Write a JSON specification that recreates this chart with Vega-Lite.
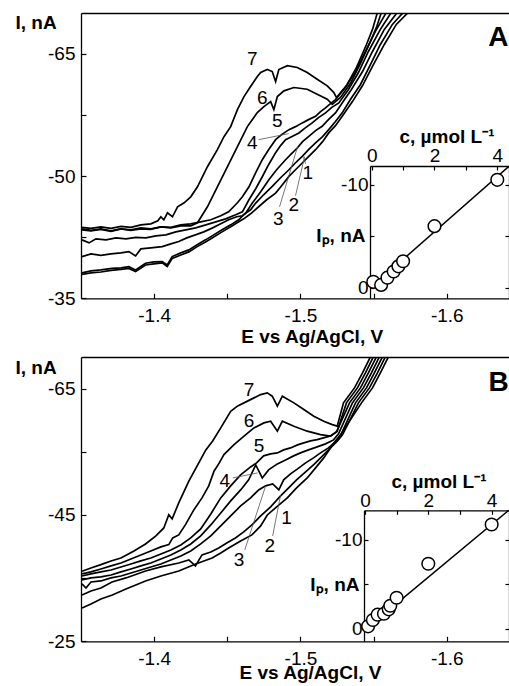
{
  "$schema": "https://vega.github.io/schema/vega-lite/v6.json",
  "padding": {"left": 15, "top": 13, "right": 0, "bottom": 0},
  "background": "white",
  "spacing": 11,
  "config": {
    "view": {"stroke": null},
    "font": "Liberation Sans",
    "axis": {"grid": false, "labelFont": "Liberation Sans", "labelFontSize": 19, "labelColor": "black", "titleFont": "Liberation Sans", "titleFontSize": 19, "titleFontWeight": "bold", "titleColor": "black", "domainColor": "black", "domainWidth": 1.3, "tickColor": "black", "tickWidth": 1.2, "labelFlush": false, "labelOverlap": false, "labelBound": false}
  },
  "datasets": {
    "curvesA": [
      {"k":7,"E":-1.3507,"I":-43.71},{"k":7,"E":-1.3568,"I":-43.58},{"k":7,"E":-1.3636,"I":-43.77},{"k":7,"E":-1.3705,"I":-43.58},{"k":7,"E":-1.3773,"I":-43.83},{"k":7,"E":-1.3841,"I":-43.71},{"k":7,"E":-1.3909,"I":-44.01},{"k":7,"E":-1.3977,"I":-44.14},{"k":7,"E":-1.4025,"I":-44.50},{"k":7,"E":-1.4046,"I":-45.00},{"k":7,"E":-1.4066,"I":-44.63},{"k":7,"E":-1.4091,"I":-45.49},{"k":7,"E":-1.4125,"I":-45.00},{"k":7,"E":-1.4160,"I":-46.23},{"k":7,"E":-1.4205,"I":-46.72},{"k":7,"E":-1.4250,"I":-47.45},{"k":7,"E":-1.4296,"I":-48.68},{"k":7,"E":-1.4364,"I":-51.14},{"k":7,"E":-1.4432,"I":-53.23},{"k":7,"E":-1.4477,"I":-54.83},{"k":7,"E":-1.4523,"I":-56.06},{"k":7,"E":-1.4569,"I":-58.15},{"k":7,"E":-1.4614,"I":-59.75},{"k":7,"E":-1.4659,"I":-60.98},{"k":7,"E":-1.4705,"I":-62.21},{"k":7,"E":-1.4728,"I":-62.70},{"k":7,"E":-1.4773,"I":-63.07},{"k":7,"E":-1.4807,"I":-62.82},{"k":7,"E":-1.4830,"I":-61.59},{"k":7,"E":-1.4852,"I":-63.07},{"k":7,"E":-1.4910,"I":-63.53},{"k":7,"E":-1.4978,"I":-63.32},{"k":7,"E":-1.5046,"I":-62.70},{"k":7,"E":-1.5114,"I":-61.88},{"k":7,"E":-1.5183,"I":-61.07},{"k":7,"E":-1.5228,"I":-60.24},{"k":7,"E":-1.5246,"I":-59.63},{"k":7,"E":-1.5314,"I":-61.10},{"k":7,"E":-1.5383,"I":-63.32},{"k":7,"E":-1.5451,"I":-66.14},{"k":7,"E":-1.5492,"I":-67.99},{"k":7,"E":-1.5526,"I":-70.08},
      {"k":6,"E":-1.3507,"I":-43.52},{"k":6,"E":-1.3568,"I":-43.34},{"k":6,"E":-1.3636,"I":-43.52},{"k":6,"E":-1.3705,"I":-43.28},{"k":6,"E":-1.3773,"I":-43.52},{"k":6,"E":-1.3841,"I":-43.40},{"k":6,"E":-1.3909,"I":-43.64},{"k":6,"E":-1.3977,"I":-43.52},{"k":6,"E":-1.4046,"I":-43.77},{"k":6,"E":-1.4114,"I":-43.64},{"k":6,"E":-1.4182,"I":-43.89},{"k":6,"E":-1.4250,"I":-43.89},{"k":6,"E":-1.4296,"I":-44.26},{"k":6,"E":-1.4364,"I":-46.23},{"k":6,"E":-1.4432,"I":-48.68},{"k":6,"E":-1.4501,"I":-51.14},{"k":6,"E":-1.4569,"I":-53.60},{"k":6,"E":-1.4637,"I":-56.06},{"k":6,"E":-1.4705,"I":-57.78},{"k":6,"E":-1.4750,"I":-58.52},{"k":6,"E":-1.4796,"I":-59.13},{"k":6,"E":-1.4818,"I":-58.15},{"k":6,"E":-1.4842,"I":-59.75},{"k":6,"E":-1.4887,"I":-60.45},{"k":6,"E":-1.4955,"I":-60.86},{"k":6,"E":-1.5046,"I":-60.65},{"k":6,"E":-1.5114,"I":-60.03},{"k":6,"E":-1.5183,"I":-59.42},{"k":6,"E":-1.5217,"I":-58.80},{"k":6,"E":-1.5273,"I":-59.63},{"k":6,"E":-1.5341,"I":-61.35},{"k":6,"E":-1.5410,"I":-63.81},{"k":6,"E":-1.5478,"I":-66.51},{"k":6,"E":-1.5519,"I":-68.23},{"k":6,"E":-1.5553,"I":-70.08},
      {"k":5,"E":-1.3507,"I":-43.40},{"k":5,"E":-1.3568,"I":-43.28},{"k":5,"E":-1.3636,"I":-43.46},{"k":5,"E":-1.3705,"I":-43.21},{"k":5,"E":-1.3773,"I":-43.52},{"k":5,"E":-1.3841,"I":-43.34},{"k":5,"E":-1.3909,"I":-43.52},{"k":5,"E":-1.3977,"I":-43.46},{"k":5,"E":-1.4046,"I":-43.77},{"k":5,"E":-1.4114,"I":-43.71},{"k":5,"E":-1.4182,"I":-44.01},{"k":5,"E":-1.4250,"I":-44.14},{"k":5,"E":-1.4318,"I":-44.38},{"k":5,"E":-1.4387,"I":-44.63},{"k":5,"E":-1.4455,"I":-45.12},{"k":5,"E":-1.4509,"I":-45.61},{"k":5,"E":-1.4569,"I":-46.72},{"k":5,"E":-1.4603,"I":-47.45},{"k":5,"E":-1.4648,"I":-48.68},{"k":5,"E":-1.4694,"I":-50.41},{"k":5,"E":-1.4739,"I":-52.00},{"k":5,"E":-1.4782,"I":-53.23},{"k":5,"E":-1.4830,"I":-54.46},{"k":5,"E":-1.4871,"I":-55.08},{"k":5,"E":-1.4921,"I":-55.69},{"k":5,"E":-1.4966,"I":-56.06},{"k":5,"E":-1.5012,"I":-56.52},{"k":5,"E":-1.5055,"I":-56.92},{"k":5,"E":-1.5103,"I":-57.33},{"k":5,"E":-1.5137,"I":-57.91},{"k":5,"E":-1.5171,"I":-58.36},{"k":5,"E":-1.5205,"I":-58.89},{"k":5,"E":-1.5239,"I":-59.38},{"k":5,"E":-1.5307,"I":-60.86},{"k":5,"E":-1.5376,"I":-62.82},{"k":5,"E":-1.5444,"I":-65.28},{"k":5,"E":-1.5512,"I":-67.74},{"k":5,"E":-1.5587,"I":-70.08},
      {"k":4,"E":-1.3507,"I":-42.17},{"k":4,"E":-1.3555,"I":-41.80},{"k":4,"E":-1.3602,"I":-42.29},{"k":4,"E":-1.3671,"I":-42.17},{"k":4,"E":-1.3739,"I":-42.41},{"k":4,"E":-1.3807,"I":-42.29},{"k":4,"E":-1.3875,"I":-42.47},{"k":4,"E":-1.3943,"I":-42.41},{"k":4,"E":-1.4012,"I":-42.66},{"k":4,"E":-1.4080,"I":-42.78},{"k":4,"E":-1.4148,"I":-43.15},{"k":4,"E":-1.4216,"I":-43.40},{"k":4,"E":-1.4284,"I":-43.64},{"k":4,"E":-1.4353,"I":-44.01},{"k":4,"E":-1.4421,"I":-44.38},{"k":4,"E":-1.4489,"I":-44.75},{"k":4,"E":-1.4557,"I":-45.24},{"k":4,"E":-1.4603,"I":-45.61},{"k":4,"E":-1.4648,"I":-47.09},{"k":4,"E":-1.4694,"I":-48.44},{"k":4,"E":-1.4739,"I":-49.91},{"k":4,"E":-1.4782,"I":-51.39},{"k":4,"E":-1.4830,"I":-52.87},{"k":4,"E":-1.4864,"I":-53.73},{"k":4,"E":-1.4898,"I":-54.46},{"k":4,"E":-1.4939,"I":-54.83},{"k":4,"E":-1.4989,"I":-55.29},{"k":4,"E":-1.5035,"I":-55.94},{"k":4,"E":-1.5080,"I":-56.52},{"k":4,"E":-1.5123,"I":-57.17},{"k":4,"E":-1.5171,"I":-57.75},{"k":4,"E":-1.5212,"I":-58.40},{"k":4,"E":-1.5262,"I":-58.97},{"k":4,"E":-1.5328,"I":-60.61},{"k":4,"E":-1.5396,"I":-62.70},{"k":4,"E":-1.5464,"I":-65.28},{"k":4,"E":-1.5546,"I":-67.99},{"k":4,"E":-1.5621,"I":-70.08},
      {"k":3,"E":-1.3507,"I":-40.12},{"k":3,"E":-1.3568,"I":-40.45},{"k":3,"E":-1.3636,"I":-40.26},{"k":3,"E":-1.3705,"I":-40.45},{"k":3,"E":-1.3773,"I":-40.57},{"k":3,"E":-1.3827,"I":-40.73},{"k":3,"E":-1.3873,"I":-40.20},{"k":3,"E":-1.3909,"I":-41.06},{"k":3,"E":-1.3977,"I":-41.18},{"k":3,"E":-1.4055,"I":-41.34},{"k":3,"E":-1.4114,"I":-41.68},{"k":3,"E":-1.4168,"I":-41.96},{"k":3,"E":-1.4223,"I":-42.41},{"k":3,"E":-1.4282,"I":-42.78},{"k":3,"E":-1.4339,"I":-43.15},{"k":3,"E":-1.4396,"I":-43.61},{"k":3,"E":-1.4455,"I":-44.14},{"k":3,"E":-1.4509,"I":-44.63},{"k":3,"E":-1.4564,"I":-45.00},{"k":3,"E":-1.4603,"I":-45.12},{"k":3,"E":-1.4623,"I":-45.37},{"k":3,"E":-1.4671,"I":-46.68},{"k":3,"E":-1.4728,"I":-48.07},{"k":3,"E":-1.4784,"I":-49.55},{"k":3,"E":-1.4837,"I":-50.77},{"k":3,"E":-1.4898,"I":-52.00},{"k":3,"E":-1.4939,"I":-52.74},{"k":3,"E":-1.4978,"I":-53.44},{"k":3,"E":-1.5014,"I":-54.22},{"k":3,"E":-1.5057,"I":-54.87},{"k":3,"E":-1.5103,"I":-55.57},{"k":3,"E":-1.5148,"I":-56.10},{"k":3,"E":-1.5191,"I":-56.92},{"k":3,"E":-1.5239,"I":-57.75},{"k":3,"E":-1.5285,"I":-58.97},{"k":3,"E":-1.5348,"I":-60.61},{"k":3,"E":-1.5424,"I":-62.82},{"k":3,"E":-1.5492,"I":-65.28},{"k":3,"E":-1.5573,"I":-67.99},{"k":3,"E":-1.5662,"I":-70.08},
      {"k":2,"E":-1.3507,"I":-38.11},{"k":2,"E":-1.3568,"I":-38.36},{"k":2,"E":-1.3636,"I":-38.48},{"k":2,"E":-1.3712,"I":-38.66},{"k":2,"E":-1.3773,"I":-38.73},{"k":2,"E":-1.3827,"I":-38.88},{"k":2,"E":-1.3873,"I":-38.48},{"k":2,"E":-1.3941,"I":-39.30},{"k":2,"E":-1.3998,"I":-39.46},{"k":2,"E":-1.4055,"I":-39.50},{"k":2,"E":-1.4089,"I":-39.09},{"k":2,"E":-1.4123,"I":-40.12},{"k":2,"E":-1.4182,"I":-40.57},{"k":2,"E":-1.4237,"I":-40.94},{"k":2,"E":-1.4291,"I":-41.55},{"k":2,"E":-1.4351,"I":-42.17},{"k":2,"E":-1.4407,"I":-42.78},{"k":2,"E":-1.4464,"I":-43.40},{"k":2,"E":-1.4523,"I":-44.01},{"k":2,"E":-1.4578,"I":-44.63},{"k":2,"E":-1.4619,"I":-45.37},{"k":2,"E":-1.4659,"I":-45.86},{"k":2,"E":-1.4694,"I":-46.68},{"k":2,"E":-1.4748,"I":-47.70},{"k":2,"E":-1.4807,"I":-48.72},{"k":2,"E":-1.4864,"I":-49.79},{"k":2,"E":-1.4921,"I":-50.77},{"k":2,"E":-1.4966,"I":-51.63},{"k":2,"E":-1.5012,"I":-52.41},{"k":2,"E":-1.5055,"I":-53.23},{"k":2,"E":-1.5103,"I":-54.06},{"k":2,"E":-1.5151,"I":-54.83},{"k":2,"E":-1.5193,"I":-55.69},{"k":2,"E":-1.5239,"I":-56.68},{"k":2,"E":-1.5285,"I":-57.75},{"k":2,"E":-1.5341,"I":-59.38},{"k":2,"E":-1.5410,"I":-61.23},{"k":2,"E":-1.5478,"I":-63.68},{"k":2,"E":-1.5546,"I":-66.14},{"k":2,"E":-1.5628,"I":-68.60},{"k":2,"E":-1.5703,"I":-70.08},
      {"k":1,"E":-1.3507,"I":-37.93},{"k":1,"E":-1.3568,"I":-38.11},{"k":1,"E":-1.3636,"I":-38.23},{"k":1,"E":-1.3705,"I":-38.42},{"k":1,"E":-1.3773,"I":-38.54},{"k":1,"E":-1.3827,"I":-38.66},{"k":1,"E":-1.3873,"I":-38.29},{"k":1,"E":-1.3941,"I":-39.09},{"k":1,"E":-1.3998,"I":-39.22},{"k":1,"E":-1.4055,"I":-39.34},{"k":1,"E":-1.4089,"I":-38.91},{"k":1,"E":-1.4123,"I":-39.89},{"k":1,"E":-1.4182,"I":-40.32},{"k":1,"E":-1.4237,"I":-40.69},{"k":1,"E":-1.4291,"I":-41.31},{"k":1,"E":-1.4351,"I":-41.92},{"k":1,"E":-1.4407,"I":-42.53},{"k":1,"E":-1.4464,"I":-43.15},{"k":1,"E":-1.4523,"I":-43.77},{"k":1,"E":-1.4578,"I":-44.38},{"k":1,"E":-1.4612,"I":-44.75},{"k":1,"E":-1.4659,"I":-45.37},{"k":1,"E":-1.4716,"I":-46.26},{"k":1,"E":-1.4769,"I":-47.09},{"k":1,"E":-1.4830,"I":-47.91},{"k":1,"E":-1.4871,"I":-48.81},{"k":1,"E":-1.4921,"I":-49.95},{"k":1,"E":-1.4966,"I":-50.77},{"k":1,"E":-1.5012,"I":-51.60},{"k":1,"E":-1.5055,"I":-52.37},{"k":1,"E":-1.5103,"I":-53.23},{"k":1,"E":-1.5151,"I":-54.22},{"k":1,"E":-1.5193,"I":-55.29},{"k":1,"E":-1.5239,"I":-56.18},{"k":1,"E":-1.5285,"I":-57.33},{"k":1,"E":-1.5355,"I":-59.13},{"k":1,"E":-1.5424,"I":-61.10},{"k":1,"E":-1.5492,"I":-63.44},{"k":1,"E":-1.5573,"I":-66.14},{"k":1,"E":-1.5655,"I":-68.60},{"k":1,"E":-1.5737,"I":-70.08}
    ],
    "curvesB": [
      {"k":7,"E":-1.3507,"I":-36.09},{"k":7,"E":-1.3568,"I":-36.61},{"k":7,"E":-1.3636,"I":-37.13},{"k":7,"E":-1.3705,"I":-37.72},{"k":7,"E":-1.3773,"I":-38.19},{"k":7,"E":-1.3862,"I":-39.30},{"k":7,"E":-1.3941,"I":-40.41},{"k":7,"E":-1.4012,"I":-41.68},{"k":7,"E":-1.4066,"I":-42.94},{"k":7,"E":-1.4100,"I":-45.05},{"k":7,"E":-1.4123,"I":-44.37},{"k":7,"E":-1.4168,"I":-46.90},{"k":7,"E":-1.4237,"I":-50.34},{"k":7,"E":-1.4305,"I":-53.24},{"k":7,"E":-1.4353,"I":-55.30},{"k":7,"E":-1.4400,"I":-56.72},{"k":7,"E":-1.4455,"I":-58.78},{"k":7,"E":-1.4523,"I":-61.42},{"k":7,"E":-1.4571,"I":-62.26},{"k":7,"E":-1.4614,"I":-62.74},{"k":7,"E":-1.4682,"I":-63.53},{"k":7,"E":-1.4728,"I":-64.05},{"k":7,"E":-1.4773,"I":-64.32},{"k":7,"E":-1.4807,"I":-63.80},{"k":7,"E":-1.4842,"I":-62.22},{"k":7,"E":-1.4876,"I":-63.80},{"k":7,"E":-1.4955,"I":-62.74},{"k":7,"E":-1.5023,"I":-61.68},{"k":7,"E":-1.5091,"I":-60.63},{"k":7,"E":-1.5159,"I":-59.84},{"k":7,"E":-1.5217,"I":-59.30},{"k":7,"E":-1.5251,"I":-59.05},{"k":7,"E":-1.5294,"I":-62.74},{"k":7,"E":-1.5369,"I":-65.11},{"k":7,"E":-1.5424,"I":-67.49},{"k":7,"E":-1.5478,"I":-70.02},{"k":7,"E":-1.5492,"I":-70.81},
      {"k":6,"E":-1.3507,"I":-35.66},{"k":6,"E":-1.3568,"I":-35.98},{"k":6,"E":-1.3636,"I":-36.45},{"k":6,"E":-1.3705,"I":-36.93},{"k":6,"E":-1.3773,"I":-37.40},{"k":6,"E":-1.3841,"I":-38.04},{"k":6,"E":-1.3909,"I":-38.67},{"k":6,"E":-1.3977,"I":-39.30},{"k":6,"E":-1.4046,"I":-39.94},{"k":6,"E":-1.4100,"I":-40.30},{"k":6,"E":-1.4127,"I":-41.36},{"k":6,"E":-1.4168,"I":-41.84},{"k":6,"E":-1.4214,"I":-43.47},{"k":6,"E":-1.4271,"I":-45.80},{"k":6,"E":-1.4327,"I":-47.70},{"k":6,"E":-1.4373,"I":-49.60},{"k":6,"E":-1.4409,"I":-51.92},{"k":6,"E":-1.4441,"I":-53.08},{"k":6,"E":-1.4477,"I":-54.55},{"k":6,"E":-1.4546,"I":-56.14},{"k":6,"E":-1.4614,"I":-57.47},{"k":6,"E":-1.4682,"I":-58.78},{"k":6,"E":-1.4750,"I":-59.57},{"k":6,"E":-1.4796,"I":-59.84},{"k":6,"E":-1.4842,"I":-58.26},{"k":6,"E":-1.4876,"I":-59.84},{"k":6,"E":-1.4955,"I":-59.05},{"k":6,"E":-1.5046,"I":-58.26},{"k":6,"E":-1.5137,"I":-57.72},{"k":6,"E":-1.5205,"I":-57.47},{"k":6,"E":-1.5251,"I":-58.26},{"k":6,"E":-1.5314,"I":-62.74},{"k":6,"E":-1.5389,"I":-65.11},{"k":6,"E":-1.5444,"I":-67.49},{"k":6,"E":-1.5498,"I":-70.02},{"k":6,"E":-1.5512,"I":-70.81},
      {"k":5,"E":-1.3507,"I":-35.34},{"k":5,"E":-1.3568,"I":-35.66},{"k":5,"E":-1.3636,"I":-35.98},{"k":5,"E":-1.3705,"I":-36.29},{"k":5,"E":-1.3773,"I":-36.77},{"k":5,"E":-1.3841,"I":-37.24},{"k":5,"E":-1.3909,"I":-37.72},{"k":5,"E":-1.3977,"I":-38.19},{"k":5,"E":-1.4046,"I":-38.83},{"k":5,"E":-1.4114,"I":-39.46},{"k":5,"E":-1.4182,"I":-40.25},{"k":5,"E":-1.4250,"I":-41.36},{"k":5,"E":-1.4318,"I":-42.79},{"k":5,"E":-1.4387,"I":-45.16},{"k":5,"E":-1.4455,"I":-47.70},{"k":5,"E":-1.4523,"I":-49.60},{"k":5,"E":-1.4591,"I":-51.34},{"k":5,"E":-1.4659,"I":-52.60},{"k":5,"E":-1.4700,"I":-53.24},{"k":5,"E":-1.4748,"I":-54.35},{"k":5,"E":-1.4796,"I":-54.66},{"k":5,"E":-1.4842,"I":-54.82},{"k":5,"E":-1.4885,"I":-55.30},{"k":5,"E":-1.4932,"I":-55.61},{"k":5,"E":-1.4980,"I":-56.09},{"k":5,"E":-1.5023,"I":-56.40},{"k":5,"E":-1.5069,"I":-56.72},{"k":5,"E":-1.5114,"I":-56.93},{"k":5,"E":-1.5157,"I":-57.20},{"k":5,"E":-1.5205,"I":-57.51},{"k":5,"E":-1.5246,"I":-58.15},{"k":5,"E":-1.5335,"I":-62.74},{"k":5,"E":-1.5410,"I":-65.11},{"k":5,"E":-1.5464,"I":-67.49},{"k":5,"E":-1.5519,"I":-70.02},{"k":5,"E":-1.5532,"I":-70.81},
      {"k":4,"E":-1.3507,"I":-34.71},{"k":4,"E":-1.3568,"I":-35.03},{"k":4,"E":-1.3636,"I":-35.19},{"k":4,"E":-1.3705,"I":-35.50},{"k":4,"E":-1.3773,"I":-35.98},{"k":4,"E":-1.3841,"I":-36.45},{"k":4,"E":-1.3909,"I":-36.93},{"k":4,"E":-1.3977,"I":-37.40},{"k":4,"E":-1.4046,"I":-38.04},{"k":4,"E":-1.4114,"I":-38.67},{"k":4,"E":-1.4182,"I":-39.46},{"k":4,"E":-1.4250,"I":-40.41},{"k":4,"E":-1.4318,"I":-41.68},{"k":4,"E":-1.4387,"I":-43.42},{"k":4,"E":-1.4455,"I":-45.32},{"k":4,"E":-1.4523,"I":-47.22},{"k":4,"E":-1.4591,"I":-48.96},{"k":4,"E":-1.4646,"I":-50.55},{"k":4,"E":-1.4694,"I":-52.92},{"k":4,"E":-1.4739,"I":-50.86},{"k":4,"E":-1.4782,"I":-52.13},{"k":4,"E":-1.4842,"I":-53.08},{"k":4,"E":-1.4898,"I":-53.71},{"k":4,"E":-1.4953,"I":-54.35},{"k":4,"E":-1.5000,"I":-54.82},{"k":4,"E":-1.5055,"I":-55.30},{"k":4,"E":-1.5114,"I":-55.77},{"k":4,"E":-1.5171,"I":-56.25},{"k":4,"E":-1.5226,"I":-56.88},{"k":4,"E":-1.5260,"I":-57.83},{"k":4,"E":-1.5355,"I":-62.74},{"k":4,"E":-1.5430,"I":-65.11},{"k":4,"E":-1.5485,"I":-67.49},{"k":4,"E":-1.5539,"I":-70.02},{"k":4,"E":-1.5553,"I":-70.81},
      {"k":3,"E":-1.3507,"I":-34.08},{"k":3,"E":-1.3534,"I":-33.44},{"k":3,"E":-1.3568,"I":-34.39},{"k":3,"E":-1.3636,"I":-34.55},{"k":3,"E":-1.3705,"I":-35.03},{"k":3,"E":-1.3773,"I":-35.34},{"k":3,"E":-1.3841,"I":-35.82},{"k":3,"E":-1.3909,"I":-36.29},{"k":3,"E":-1.3977,"I":-36.77},{"k":3,"E":-1.4046,"I":-37.24},{"k":3,"E":-1.4114,"I":-37.88},{"k":3,"E":-1.4182,"I":-38.51},{"k":3,"E":-1.4250,"I":-39.30},{"k":3,"E":-1.4318,"I":-40.41},{"k":3,"E":-1.4387,"I":-41.68},{"k":3,"E":-1.4455,"I":-43.26},{"k":3,"E":-1.4523,"I":-44.85},{"k":3,"E":-1.4591,"I":-46.43},{"k":3,"E":-1.4659,"I":-47.70},{"k":3,"E":-1.4714,"I":-48.96},{"k":3,"E":-1.4762,"I":-49.60},{"k":3,"E":-1.4810,"I":-49.91},{"k":3,"E":-1.4852,"I":-48.96},{"k":3,"E":-1.4885,"I":-50.55},{"k":3,"E":-1.4932,"I":-51.50},{"k":3,"E":-1.4980,"I":-52.29},{"k":3,"E":-1.5035,"I":-53.24},{"k":3,"E":-1.5089,"I":-54.03},{"k":3,"E":-1.5137,"I":-54.82},{"k":3,"E":-1.5191,"I":-55.61},{"k":3,"E":-1.5239,"I":-56.56},{"k":3,"E":-1.5273,"I":-57.51},{"k":3,"E":-1.5376,"I":-62.74},{"k":3,"E":-1.5451,"I":-65.11},{"k":3,"E":-1.5505,"I":-67.49},{"k":3,"E":-1.5560,"I":-70.02},{"k":3,"E":-1.5573,"I":-70.81},
      {"k":2,"E":-1.3507,"I":-32.34},{"k":2,"E":-1.3568,"I":-32.97},{"k":2,"E":-1.3636,"I":-33.44},{"k":2,"E":-1.3712,"I":-34.39},{"k":2,"E":-1.3807,"I":-35.03},{"k":2,"E":-1.3941,"I":-36.13},{"k":2,"E":-1.4046,"I":-36.77},{"k":2,"E":-1.4168,"I":-37.40},{"k":2,"E":-1.4237,"I":-37.88},{"k":2,"E":-1.4282,"I":-36.93},{"k":2,"E":-1.4327,"I":-38.67},{"k":2,"E":-1.4387,"I":-39.14},{"k":2,"E":-1.4441,"I":-39.78},{"k":2,"E":-1.4496,"I":-40.57},{"k":2,"E":-1.4555,"I":-41.36},{"k":2,"E":-1.4612,"I":-42.31},{"k":2,"E":-1.4668,"I":-43.42},{"k":2,"E":-1.4728,"I":-44.85},{"k":2,"E":-1.4796,"I":-46.27},{"k":2,"E":-1.4864,"I":-48.01},{"k":2,"E":-1.4919,"I":-49.28},{"k":2,"E":-1.4973,"I":-50.55},{"k":2,"E":-1.5035,"I":-51.81},{"k":2,"E":-1.5096,"I":-53.08},{"k":2,"E":-1.5151,"I":-54.35},{"k":2,"E":-1.5205,"I":-55.61},{"k":2,"E":-1.5253,"I":-56.72},{"k":2,"E":-1.5287,"I":-57.67},{"k":2,"E":-1.5396,"I":-62.74},{"k":2,"E":-1.5471,"I":-65.11},{"k":2,"E":-1.5526,"I":-67.49},{"k":2,"E":-1.5580,"I":-70.02},{"k":2,"E":-1.5594,"I":-70.81},
      {"k":1,"E":-1.3507,"I":-30.28},{"k":1,"E":-1.3568,"I":-30.91},{"k":1,"E":-1.3636,"I":-31.70},{"k":1,"E":-1.3714,"I":-32.34},{"k":1,"E":-1.3807,"I":-33.29},{"k":1,"E":-1.3941,"I":-34.55},{"k":1,"E":-1.4046,"I":-35.34},{"k":1,"E":-1.4168,"I":-36.13},{"k":1,"E":-1.4284,"I":-37.24},{"k":1,"E":-1.4396,"I":-38.19},{"k":1,"E":-1.4455,"I":-38.99},{"k":1,"E":-1.4509,"I":-39.78},{"k":1,"E":-1.4591,"I":-40.89},{"k":1,"E":-1.4668,"I":-41.84},{"k":1,"E":-1.4728,"I":-43.26},{"k":1,"E":-1.4773,"I":-45.00},{"k":1,"E":-1.4837,"I":-46.27},{"k":1,"E":-1.4910,"I":-47.70},{"k":1,"E":-1.4973,"I":-49.28},{"k":1,"E":-1.5046,"I":-50.86},{"k":1,"E":-1.5103,"I":-52.45},{"k":1,"E":-1.5159,"I":-54.03},{"k":1,"E":-1.5228,"I":-56.40},{"k":1,"E":-1.5273,"I":-57.67},{"k":1,"E":-1.5417,"I":-62.74},{"k":1,"E":-1.5492,"I":-65.11},{"k":1,"E":-1.5546,"I":-67.49},{"k":1,"E":-1.5601,"I":-70.02},{"k":1,"E":-1.5614,"I":-70.81}
    ],
    "labA": [{"t":"7","E":-1.4671,"I":-64.30},{"t":"6","E":-1.4739,"I":-59.59},{"t":"5","E":-1.4842,"I":-56.71},{"t":"4","E":-1.4671,"I":-54.06},{"t":"1","E":-1.5050,"I":-50.37},{"t":"2","E":-1.4955,"I":-46.47},{"t":"3","E":-1.4848,"I":-44.75}],
    "leadA": [{"E":-1.4714,"I":-54.46,"E2":-1.4919,"I2":-55.20},{"E":-1.4857,"I":-46.23,"E2":-1.4980,"I2":-53.60},{"E":-1.4966,"I":-47.58,"E2":-1.5028,"I2":-52.37},{"E":-1.5035,"I":-51.51,"E2":-1.5021,"I2":-52.37}],
    "labB": [{"t":"7","E":-1.4648,"I":-64.84},{"t":"6","E":-1.4648,"I":-59.84},{"t":"5","E":-1.4716,"I":-55.88},{"t":"4","E":-1.4482,"I":-50.34},{"t":"3","E":-1.4580,"I":-37.93},{"t":"2","E":-1.4791,"I":-40.05},{"t":"1","E":-1.4905,"I":-44.53}],
    "leadB": [{"E":-1.4537,"I":-50.86,"E2":-1.4707,"I2":-51.65},{"E":-1.4619,"I":-39.46,"E2":-1.4762,"I2":-49.60},{"E":-1.4810,"I":-41.68,"E2":-1.4864,"I2":-48.17}],
    "ptsA": [{"c":0.05,"p":-0.6},{"c":0.3,"p":-0.3},{"c":0.5,"p":-1.0},{"c":0.7,"p":-1.6},{"c":0.85,"p":-2.1},{"c":1.0,"p":-2.6},{"c":2.0,"p":-6.0},{"c":4.0,"p":-10.5}],
    "fitA": [{"c":0,"p":-0.1},{"c":4.37,"p":-11.81}],
    "ptsB": [{"c":0.1,"p":-0.3},{"c":0.25,"p":-1.0},{"c":0.4,"p":-1.6},{"c":0.6,"p":-1.7},{"c":0.75,"p":-2.2},{"c":0.8,"p":-2.6},{"c":1.0,"p":-3.5},{"c":2.0,"p":-7.3},{"c":4.0,"p":-11.7}],
    "fitB": [{"c":0,"p":0.1},{"c":4.54,"p":-13.29}]
  },
  "vconcat": [
    {
      "width": 428,
      "height": 285.3,
      "layer": [
        {
          "layer": [
            {
              "data": {"name": "curvesA"},
              "mark": {"type": "line", "color": "black", "strokeWidth": 1.7, "clip": true},
              "encoding": {
                "x": {"field": "E", "type": "quantitative", "scale": {"domain": [-1.35, -1.6425], "nice": false, "zero": false},
                  "axis": {"orient": "bottom", "values": [-1.4, -1.45, -1.5, -1.55, -1.6], "labelExpr": "round(abs(datum.value)*100) % 10 == 5 ? '' : '-' + format(abs(datum.value), '.1f')", "tickSize": -5, "labelPadding": 13.5, "title": "E vs Ag/AgCl, V", "titleX": 230.7, "titleY": 43.7, "titleAlign": "center", "titleBaseline": "alphabetic"}},
                "y": {"field": "I", "type": "quantitative", "scale": {"domain": [-35, -70], "nice": false, "zero": false},
                  "axis": {"orient": "left", "values": [-35, -42.5, -50, -57.5, -65], "labelExpr": "datum.value == round(datum.value) ? '-' + format(abs(datum.value), 'd') : ''", "tickSize": -5, "labelPadding": 11, "title": "I, nA", "titleAngle": 0, "titleAlign": "left", "titleBaseline": "alphabetic", "titleX": -66, "titleY": 15.5}},
                "detail": {"field": "k", "type": "nominal"}
              }
            },
            {
              "data": {"name": "leadA"},
              "mark": {"type": "rule", "color": "#555555", "strokeWidth": 0.8},
              "encoding": {
                "x": {"field": "E", "type": "quantitative", "scale": {"domain": [-1.35, -1.6425], "nice": false, "zero": false}},
                "y": {"field": "I", "type": "quantitative", "scale": {"domain": [-35, -70], "nice": false, "zero": false}},
                "x2": {"field": "E2"},
                "y2": {"field": "I2"}
              }
            },
            {
              "data": {"name": "labA"},
              "mark": {"type": "text", "font": "Liberation Sans", "fontSize": 19, "color": "black"},
              "encoding": {
                "x": {"field": "E", "type": "quantitative", "scale": {"domain": [-1.35, -1.6425], "nice": false, "zero": false}},
                "y": {"field": "I", "type": "quantitative", "scale": {"domain": [-35, -70], "nice": false, "zero": false}},
                "text": {"field": "t"}
              }
            },
            {
              "data": {"values": [{"t": "A", "E": -1.6283, "I": -65.93}]},
              "mark": {"type": "text", "font": "Liberation Sans", "fontSize": 28, "fontWeight": "bold", "align": "left", "baseline": "alphabetic", "clip": true, "color": "black"},
              "encoding": {
                "x": {"field": "E", "type": "quantitative", "scale": {"domain": [-1.35, -1.6425], "nice": false, "zero": false}},
                "y": {"field": "I", "type": "quantitative", "scale": {"domain": [-35, -70], "nice": false, "zero": false}},
                "text": {"field": "t"}
              }
            }
          ]
        },
        {
          "layer": [
            {
              "data": {"name": "fitA"},
              "mark": {"type": "line", "color": "black", "strokeWidth": 1.5},
              "encoding": {
                "x": {"field": "c", "type": "quantitative", "scale": {"domain": [-0.054, 4.373], "range": [289, 428], "nice": false, "zero": false},
                  "axis": {"orient": "top", "offset": -153, "values": [0, 1, 2, 3, 4], "labelExpr": "datum.value % 2 == 0 ? format(datum.value, 'd') : ''", "tickSize": -4, "labelPadding": 9, "labelBaseline": "alphabetic", "title": "c, µmol L⁻¹", "titleX": 365.5, "titleY": -24, "titleAlign": "center", "titleBaseline": "alphabetic"}},
                "y": {"field": "p", "type": "quantitative", "scale": {"domain": [1.0, -11.84], "range": [285.3, 153], "nice": false, "zero": false},
                  "axis": {"orient": "left", "offset": -289, "values": [0, -5, -10], "labelExpr": "datum.value == -5 ? '' : (datum.value < 0 ? '-' + format(abs(datum.value), 'd') : '0')", "tickSize": -4, "labelPadding": 6, "title": "Iₚ, nA", "titleAngle": 0, "titleAlign": "right", "titleBaseline": "middle", "titleX": -5, "titleY": 222}}
              }
            },
            {
              "data": {"name": "ptsA"},
              "mark": {"type": "point", "shape": "circle", "filled": true, "fill": "white", "stroke": "black", "strokeWidth": 1.5, "size": 160, "opacity": 1},
              "encoding": {
                "x": {"field": "c", "type": "quantitative", "scale": {"domain": [-0.054, 4.373], "range": [289, 428], "nice": false, "zero": false}},
                "y": {"field": "p", "type": "quantitative", "scale": {"domain": [1.0, -11.84], "range": [285.3, 153], "nice": false, "zero": false}}
              }
            }
          ]
        },
        {
          "data": {"values": [{"p": 0}]},
          "mark": {"type": "point", "opacity": 0},
          "encoding": {
            "y": {"field": "p", "type": "quantitative", "scale": {"domain": [1.0, -11.84], "range": [285.3, 153], "nice": false, "zero": false},
              "axis": {"orient": "right", "values": [0, -5, -10], "labels": false, "domain": true, "tickSize": -4, "title": null}}
          }
        },
        {
          "data": {"values": [{"E": -1.5}]},
          "mark": {"type": "point", "opacity": 0},
          "encoding": {
            "x": {"field": "E", "type": "quantitative", "scale": {"domain": [-1.35, -1.6425], "nice": false, "zero": false},
              "axis": {"orient": "top", "ticks": false, "labels": false, "domain": true, "title": null}}
          }
        }
      ],
      "resolve": {"scale": {"x": "independent", "y": "independent"}, "axis": {"x": "independent", "y": "independent"}}
    },
    {
      "width": 428,
      "height": 284.3,
      "layer": [
        {
          "layer": [
            {
              "data": {"name": "curvesB"},
              "mark": {"type": "line", "color": "black", "strokeWidth": 1.7, "clip": true},
              "encoding": {
                "x": {"field": "E", "type": "quantitative", "scale": {"domain": [-1.35, -1.6425], "nice": false, "zero": false},
                  "axis": {"orient": "bottom", "values": [-1.4, -1.45, -1.5, -1.55, -1.6], "labelExpr": "round(abs(datum.value)*100) % 10 == 5 ? '' : '-' + format(abs(datum.value), '.1f')", "tickSize": -5, "labelPadding": 13.5, "title": "E vs Ag/AgCl, V", "titleX": 229, "titleY": 37, "titleAlign": "center", "titleBaseline": "alphabetic"}},
                "y": {"field": "I", "type": "quantitative", "scale": {"domain": [-25, -70], "nice": false, "zero": false},
                  "axis": {"orient": "left", "values": [-25, -35, -45, -55, -65], "labelExpr": "abs(datum.value) % 20 == 5 ? '-' + format(abs(datum.value), 'd') : ''", "tickSize": -5, "labelPadding": 11, "title": "I, nA", "titleAngle": 0, "titleAlign": "left", "titleBaseline": "alphabetic", "titleX": -66, "titleY": 16.1}},
                "detail": {"field": "k", "type": "nominal"}
              }
            },
            {
              "data": {"name": "leadB"},
              "mark": {"type": "rule", "color": "#555555", "strokeWidth": 0.8},
              "encoding": {
                "x": {"field": "E", "type": "quantitative", "scale": {"domain": [-1.35, -1.6425], "nice": false, "zero": false}},
                "y": {"field": "I", "type": "quantitative", "scale": {"domain": [-25, -70], "nice": false, "zero": false}},
                "x2": {"field": "E2"},
                "y2": {"field": "I2"}
              }
            },
            {
              "data": {"name": "labB"},
              "mark": {"type": "text", "font": "Liberation Sans", "fontSize": 19, "color": "black"},
              "encoding": {
                "x": {"field": "E", "type": "quantitative", "scale": {"domain": [-1.35, -1.6425], "nice": false, "zero": false}},
                "y": {"field": "I", "type": "quantitative", "scale": {"domain": [-25, -70], "nice": false, "zero": false}},
                "text": {"field": "t"}
              }
            },
            {
              "data": {"values": [{"t": "B", "E": -1.6285, "I": -64.59}]},
              "mark": {"type": "text", "font": "Liberation Sans", "fontSize": 28, "fontWeight": "bold", "align": "left", "baseline": "alphabetic", "clip": true, "color": "black"},
              "encoding": {
                "x": {"field": "E", "type": "quantitative", "scale": {"domain": [-1.35, -1.6425], "nice": false, "zero": false}},
                "y": {"field": "I", "type": "quantitative", "scale": {"domain": [-25, -70], "nice": false, "zero": false}},
                "text": {"field": "t"}
              }
            }
          ]
        },
        {
          "layer": [
            {
              "data": {"name": "fitB"},
              "mark": {"type": "line", "color": "black", "strokeWidth": 1.5},
              "encoding": {
                "x": {"field": "c", "type": "quantitative", "scale": {"domain": [-0.03, 4.548], "range": [283, 428], "nice": false, "zero": false},
                  "axis": {"orient": "top", "offset": -153.3, "values": [0, 1, 2, 3, 4], "labelExpr": "datum.value % 2 == 0 ? format(datum.value, 'd') : ''", "tickSize": -4, "labelPadding": 7.5, "labelBaseline": "alphabetic", "title": "c, µmol L⁻¹", "titleX": 357.5, "titleY": -22.5, "titleAlign": "center", "titleBaseline": "alphabetic"}},
                "y": {"field": "p", "type": "quantitative", "scale": {"domain": [1.38, -13.29], "range": [284.3, 153.3], "nice": false, "zero": false},
                  "axis": {"orient": "left", "offset": -283, "values": [0, -5, -10], "labelExpr": "datum.value == -5 ? '' : (datum.value < 0 ? '-' + format(abs(datum.value), 'd') : '0')", "tickSize": -4, "labelPadding": 6, "title": "Iₚ, nA", "titleAngle": 0, "titleAlign": "right", "titleBaseline": "middle", "titleX": -5, "titleY": 227.7}}
              }
            },
            {
              "data": {"name": "ptsB"},
              "mark": {"type": "point", "shape": "circle", "filled": true, "fill": "white", "stroke": "black", "strokeWidth": 1.5, "size": 160, "opacity": 1},
              "encoding": {
                "x": {"field": "c", "type": "quantitative", "scale": {"domain": [-0.03, 4.548], "range": [283, 428], "nice": false, "zero": false}},
                "y": {"field": "p", "type": "quantitative", "scale": {"domain": [1.38, -13.29], "range": [284.3, 153.3], "nice": false, "zero": false}}
              }
            }
          ]
        },
        {
          "data": {"values": [{"p": 0}]},
          "mark": {"type": "point", "opacity": 0},
          "encoding": {
            "y": {"field": "p", "type": "quantitative", "scale": {"domain": [1.38, -13.29], "range": [284.3, 153.3], "nice": false, "zero": false},
              "axis": {"orient": "right", "values": [0, -5, -10], "labels": false, "domain": true, "tickSize": -4, "title": null}}
          }
        },
        {
          "data": {"values": [{"E": -1.5}]},
          "mark": {"type": "point", "opacity": 0},
          "encoding": {
            "x": {"field": "E", "type": "quantitative", "scale": {"domain": [-1.35, -1.6425], "nice": false, "zero": false},
              "axis": {"orient": "top", "ticks": false, "labels": false, "domain": true, "title": null}}
          }
        }
      ],
      "resolve": {"scale": {"x": "independent", "y": "independent"}, "axis": {"x": "independent", "y": "independent"}}
    }
  ]
}
